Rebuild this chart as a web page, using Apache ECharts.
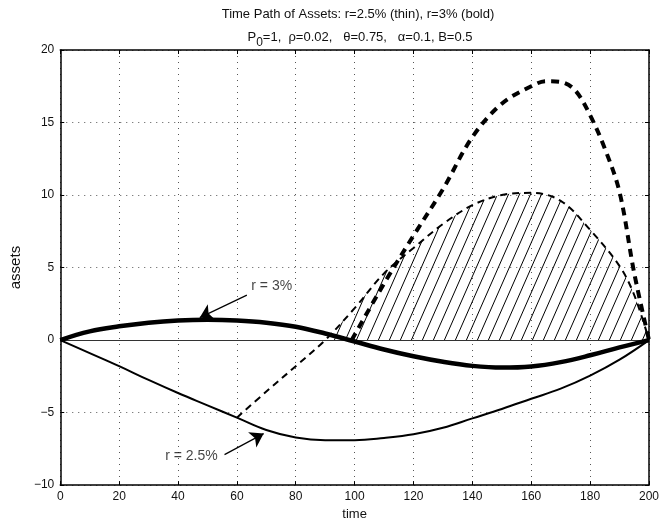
<!DOCTYPE html>
<html><head><meta charset="utf-8">
<script src="https://cdn.jsdelivr.net/npm/echarts@6/dist/echarts.min.js"></script>
<style>html,body{margin:0;padding:0;background:#fff}#c{width:662px;height:526px}</style>
</head><body><div id="c"></div>
<script>
// ---- data ----
const titleLine1 = 'Time Path of Assets: r=2.5% (thin), r=3% (bold)';
const xTitle = 'time';
const yTitle = 'assets';
const xMin = 0, xMax = 200, xStep = 20;
const yMin = -10, yMax = 20, yStep = 5;

const tSolid = [0,10,20,30,40,50,60,70,80,90,100,110,120,130,140,150,160,170,180,190,200];
const thinSolid = [0,-0.9,-1.8,-2.75,-3.65,-4.5,-5.35,-6.2,-6.72,-6.9,-6.9,-6.75,-6.5,-6.05,-5.4,-4.75,-4.05,-3.35,-2.45,-1.35,0];
const boldSolid = [0,0.6,0.95,1.2,1.35,1.4,1.35,1.2,0.92,0.45,-0.1,-0.65,-1.12,-1.5,-1.78,-1.9,-1.82,-1.52,-1.05,-0.5,0];

const tThinDash = [60,70,80,90,100,110,120,130,140,150,160,170,180,190,195,200];
const thinDash = [-5.35,-3.55,-1.8,0,2.2,4.6,6.35,8.0,9.3,10.0,10.15,9.6,7.6,5.1,3.1,0];

const tBoldDash = [99,110,120,130,140,150,160,165,170,175,180,185,190,195,200];
const boldDash = [0,3.9,7.2,10.4,14.0,16.3,17.5,17.85,17.8,17.2,15.5,13.2,10.2,4.6,0];

const arrow3 = [[63.4,3.1],[47.4,1.55]];
const arrow25 = [[55.8,-7.9],[69.1,-6.45]];
const label3 = {text:'r = 3%', at:[64.9,3.73]};
const label25 = {text:'r = 2.5%', at:[53.5,-7.97]};

// ---- helpers ----
const pairs = (ts, vs) => ts.map((t,i)=>[t, vs[i]]);
const hatchData = pairs(tThinDash, thinDash).filter(p => p[1] >= 0);

function hatchCanvas(){
  const w = 11, h = 25;
  const c = document.createElement('canvas');
  c.width = w; c.height = h;
  const g = c.getContext('2d');
  g.strokeStyle = '#000'; g.lineWidth = 1;
  for (let k=-1;k<=1;k++){ g.beginPath(); g.moveTo(k*w, h); g.lineTo((k+1)*w, 0); g.stroke(); }
  return c;
}

const FONT = 'Liberation Sans, Arial, Helvetica, sans-serif';
const TXT = '#111';
const minus = v => String(v).replace('-', '\u2212');

const gridLine = {show:true, lineStyle:{color:'#555', width:1, type:[1,5]}};

const chart = echarts.init(document.getElementById('c'), null, {renderer:'canvas'});
chart.setOption({
  animation:false,
  backgroundColor:'#fff',
  textStyle:{fontFamily:FONT},
  title:[
    {text:titleLine1, left:353, top:3, textAlign:'center',
     textStyle:{fontFamily:FONT, fontSize:13, fontWeight:'normal', color:TXT}},
    {text:'{n|P}{s|0}{n|=1,  \u03c1=0.02,   \u03b8=0.75,   \u03b1=0.1, B=0.5}', left:355, top:20, textAlign:'center',
     textStyle:{fontFamily:FONT, fontSize:13, fontWeight:'normal', color:TXT,
       rich:{n:{fontFamily:FONT, fontSize:13, color:TXT},
             s:{fontFamily:FONT, fontSize:12, color:TXT, padding:[12,0,0,0]}}}}
  ],
  grid:{left:53, right:9, top:50, bottom:37, containLabel:false},
  xAxis:[
    {type:'value', min:xMin, max:xMax, interval:xStep, position:'bottom',
     name:xTitle, nameLocation:'middle', nameGap:22,
     nameTextStyle:{fontFamily:FONT, fontSize:13, color:TXT},
     axisLine:{show:true, onZero:false, lineStyle:{color:'#000', width:1.5}},
     axisTick:{show:true, inside:true, length:4, lineStyle:{color:'#000'}},
     axisLabel:{fontFamily:FONT, fontSize:12, color:TXT, margin:6},
     splitLine:gridLine},
    {type:'value', min:xMin, max:xMax, interval:xStep, position:'top',
     axisLine:{show:true, onZero:false, lineStyle:{color:'#000', width:1.5}},
     axisTick:{show:true, inside:true, length:4, lineStyle:{color:'#000'}},
     axisLabel:{show:false}, splitLine:{show:false}}
  ],
  yAxis:[
    {type:'value', min:yMin, max:yMax, interval:yStep, position:'left',
     name:yTitle, nameLocation:'middle', nameGap:30,
     nameTextStyle:{fontFamily:FONT, fontSize:15, color:TXT},
     axisLine:{show:true, onZero:false, lineStyle:{color:'#000', width:1.5}},
     axisTick:{show:true, inside:true, length:4, lineStyle:{color:'#000'}},
     axisLabel:{fontFamily:FONT, fontSize:12, color:TXT, margin:6, formatter:minus},
     splitLine:gridLine},
    {type:'value', min:yMin, max:yMax, interval:yStep, position:'right',
     axisLine:{show:true, onZero:false, lineStyle:{color:'#000', width:1.5}},
     axisTick:{show:true, inside:true, length:4, lineStyle:{color:'#000'}},
     axisLabel:{show:false}, splitLine:{show:false}}
  ],
  series:[
    {type:'line', name:'hatch', data:hatchData, smooth:0.35, symbol:'none', z:1,
     lineStyle:{width:0}, areaStyle:{color:{image:hatchCanvas(), repeat:'repeat'}, opacity:1},
     markLine:{silent:true, symbol:'none', label:{show:false},
       lineStyle:{color:'#333', width:1, type:'solid'}, data:[{yAxis:0}]}},
    {type:'line', name:'thinDash', data:pairs(tThinDash, thinDash), smooth:0.35, symbol:'none', z:3,
     lineStyle:{color:'#000', width:2, type:[7,5]}},
    {type:'line', name:'boldDash', data:pairs(tBoldDash, boldDash), smooth:0.35, symbol:'none', z:4,
     lineStyle:{color:'#000', width:4, type:[8,6]}},
    {type:'line', name:'thin', data:pairs(tSolid, thinSolid), smooth:0.4, symbol:'none', z:5,
     lineStyle:{color:'#000', width:2}},
    {type:'line', name:'bold', data:pairs(tSolid, boldSolid), smooth:0.4, symbol:'none', z:6,
     lineStyle:{color:'#000', width:4.5}},
    {type:'lines', coordinateSystem:'cartesian2d', z:7, symbol:['none','arrow'], symbolSize:[1,13],
     lineStyle:{color:'#000', width:1.2, opacity:1},
     data:[{coords:arrow3},{coords:arrow25}]},
    {type:'scatter', symbolSize:0, z:8, silent:true,
     data:[{value:label3.at, label:{show:true, position:'right', distance:0, formatter:label3.text}},
           {value:label25.at, label:{show:true, position:'left', distance:0, formatter:label25.text}}],
     label:{fontFamily:FONT, fontSize:14, color:TXT}}
  ]
});
</script>
</body></html>
